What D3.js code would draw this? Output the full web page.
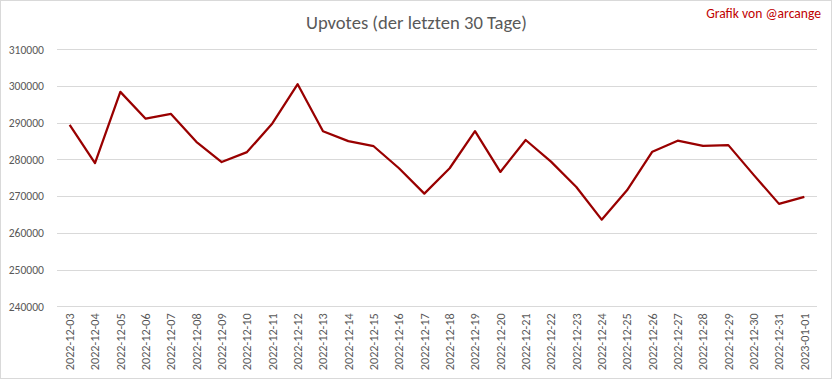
<!DOCTYPE html>
<html><head><meta charset="utf-8">
<script src="https://cdn.jsdelivr.net/npm/d3@7/dist/d3.min.js"></script>
<style>body{margin:0;background:#fff}svg{display:block}</style>
</head><body>
<script>
const dates = ["2022-12-03","2022-12-04","2022-12-05","2022-12-06","2022-12-07","2022-12-08","2022-12-09","2022-12-10","2022-12-11","2022-12-12","2022-12-13","2022-12-14","2022-12-15","2022-12-16","2022-12-17","2022-12-18","2022-12-19","2022-12-20","2022-12-21","2022-12-22","2022-12-23","2022-12-24","2022-12-25","2022-12-26","2022-12-27","2022-12-28","2022-12-29","2022-12-30","2022-12-31","2023-01-01"];
const upvotes = [289400,279000,298400,291100,292400,284800,279300,282000,289800,300500,287700,285000,283600,277600,270700,277600,287700,276600,285300,279400,272500,263600,271600,282100,285100,283700,283900,275800,267900,269800];
const yTicks = [240000,250000,260000,270000,280000,290000,300000,310000];
const title = "Upvotes (der letzten 30 Tage)";
const credit = "Grafik von @arcange";

const W = 832, H = 379;
const m = {left:57, right:15, top:49.3, bottom:72.7};
const svg = d3.select("body").append("svg").attr("width",W).attr("height",H);
svg.append("rect").attr("x",0.5).attr("y",0.5).attr("width",W-1).attr("height",H-1)
  .attr("fill","#fff").attr("stroke","#d9d9d9");

const x = d3.scaleBand().domain(dates).range([m.left, W-m.right]);
const y = d3.scaleLinear().domain([240000,310000]).range([H-m.bottom, m.top]);

const font = "Calibri, Carlito, sans-serif";

svg.append("g").selectAll("line").data(yTicks).join("line")
  .attr("x1",m.left).attr("x2",W-m.right)
  .attr("y1",d=>Math.round(y(d))+0.5).attr("y2",d=>Math.round(y(d))+0.5)
  .attr("stroke","#d9d9d9").attr("stroke-width",1);

const yAxis = d3.axisLeft(y).tickValues(yTicks).tickSize(0).tickPadding(13).tickFormat(d3.format("d"));
const gy = svg.append("g").attr("transform",`translate(${m.left},0)`).call(yAxis);
gy.select(".domain").remove();
gy.selectAll("text").attr("fill","#595959").style("font-family",font).style("font-size","11.6px");

const xAxis = d3.axisBottom(x).tickSize(0).tickPadding(0);
const gx = svg.append("g").attr("transform",`translate(0,${H-m.bottom})`).call(xAxis);
gx.select(".domain").remove();
gx.selectAll("text").attr("fill","#595959").style("font-family",font).style("font-size","12.2px")
  .attr("transform","rotate(-90)").attr("text-anchor","end").attr("x",-7).attr("y",0).attr("dy","0.35em");

const line = d3.line().x((d,i)=>x(dates[i])+x.bandwidth()/2).y(d=>y(d));
svg.append("path").datum(upvotes).attr("d",line).attr("fill","none")
  .attr("stroke","#990000").attr("stroke-width",2.25).attr("stroke-linejoin","round");

svg.append("text").attr("x",416.5).attr("y",29).attr("text-anchor","middle")
  .attr("fill","#595959").style("font-family",font).style("font-size","18.6px").text(title);
svg.append("text").attr("x",821).attr("y",18).attr("text-anchor","end")
  .attr("fill","#c00000").style("font-family",font).style("font-size","13.6px").text(credit);
</script>
</body></html>
